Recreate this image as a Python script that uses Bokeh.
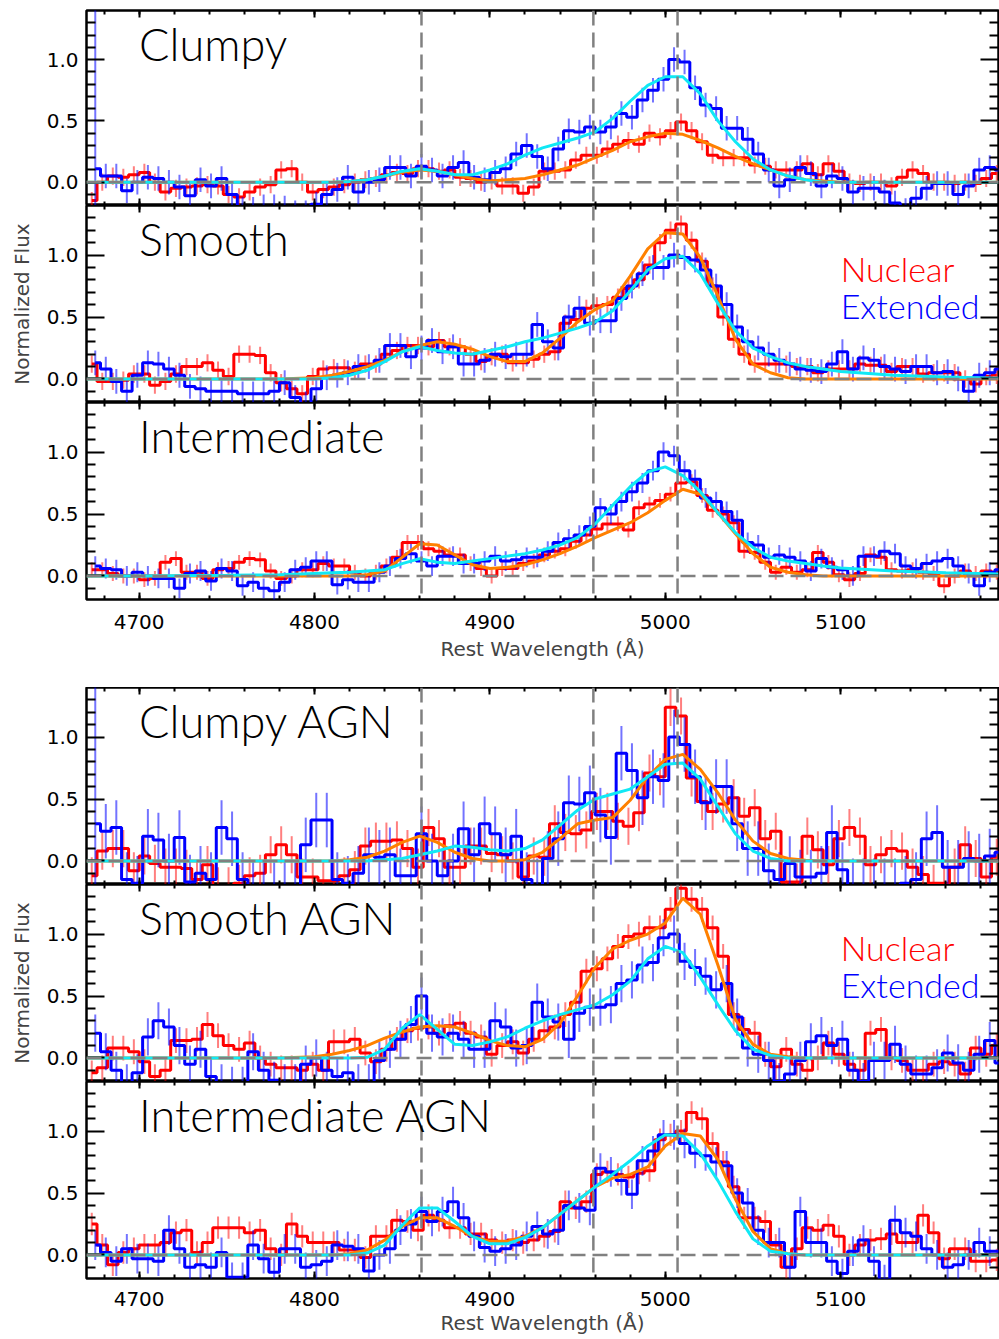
import numpy as np
from bokeh.plotting import figure
from bokeh.layouts import column
from bokeh.models import LinearAxis, Range1d, FixedTicker, Label, Span, PrintfTickFormatter
from bokeh.embed import file_html
from bokeh.resources import INLINE

# ---------------- data ----------------
PANEL_NAMES = ["Clumpy", "Smooth", "Intermediate", "Clumpy AGN", "Smooth AGN", "Intermediate AGN"]
LINE_CENTERS = [4861, 4959, 5007]
X_TICKS = [4700, 4800, 4900, 5000, 5100]
X_MINOR = list(range(4680, 5190, 20))
Y_TICKS = [0.0, 0.5, 1.0]
Y_MINOR = [-0.1, 0.1, 0.2, 0.3, 0.4, 0.6, 0.7, 0.8, 0.9, 1.1, 1.2, 1.3]
BIN_START = 4670.0
BIN_WIDTH = 6.0
EXT_SHIFT = 2.0
FIT_KNOTS = [4670, 4700, 4750, 4780] + list(range(4800, 5101, 10)) + [5130, 5160, 5190]

clumpy_nuc = [-0.15, 0.0, 0.05, 0.04, 0.06, 0.08, 0.0, -0.08, -0.05, -0.04,
              -0.03, -0.02, -0.03, -0.1, -0.12, -0.08, -0.04, -0.02, 0.1, 0.11,
              0.0, -0.08, -0.06, -0.04, -0.02, 0.0, 0.02, 0.03, 0.06, 0.08,
              0.07, 0.11, 0.11, 0.09, 0.1, 0.04, 0.03, 0.0, 0.01, -0.03,
              -0.03, -0.09, -0.04, 0.09, 0.09, 0.1, 0.18, 0.22, 0.22, 0.27,
              0.31, 0.34, 0.31, 0.4, 0.37, 0.42, 0.49, 0.42, 0.33, 0.22,
              0.2, 0.2, 0.2, 0.14, 0.13, 0.1, 0.1, 0.1, 0.15, 0.06,
              0.15, 0.09, 0.0, -0.01, 0.0, 0.0, -0.03, 0.04, 0.1, 0.07,
              0.0, 0.0, -0.01, 0.0, -0.01, 0.03, 0.07]
clumpy_ext = [0.11, 0.05, 0.05, -0.07, 0.0, 0.04, 0.03, 0.0, -0.04, -0.11,
              0.02, -0.03, 0.03, -0.1, -0.22, -0.22, -0.2, -0.2, -0.21, -0.25,
              -0.25, -0.18, -0.1, -0.06, 0.04, -0.08, 0.0, 0.02, 0.12, 0.12,
              0.05, 0.13, 0.1, 0.05, 0.12, 0.16, 0.04, 0.02, 0.08, 0.11,
              0.23, 0.3, 0.21, 0.11, 0.27, 0.42, 0.41, 0.45, 0.41, 0.45,
              0.56, 0.53, 0.67, 0.75, 0.84, 1.0, 0.98, 0.77, 0.63, 0.6,
              0.44, 0.44, 0.35, 0.23, 0.1, -0.03, 0.02, 0.12, 0.07, -0.03,
              0.05, 0.03, -0.08, -0.05, -0.05, -0.08, -0.17, -0.23, -0.13, -0.05,
              -0.01, -0.01, -0.1, -0.03, 0.1, 0.12, 0.1]
smooth_nuc = [0.12, -0.02, -0.02, -0.01, 0.04, 0.04, -0.05, -0.02, 0.04, 0.1,
              0.1, 0.13, 0.07, 0.02, 0.2, 0.2, 0.19, 0.05, -0.03, -0.08,
              -0.12, 0.02, 0.08, 0.09, 0.09, 0.07, 0.12, 0.12, 0.2, 0.23,
              0.27, 0.27, 0.26, 0.31, 0.26, 0.26, 0.2, 0.14, 0.18, 0.2,
              0.13, 0.13, 0.16, 0.2, 0.22, 0.45, 0.48, 0.57, 0.59, 0.6,
              0.66, 0.73, 0.8, 0.92, 1.1, 1.2, 1.25, 1.12, 0.95, 0.75,
              0.5, 0.32, 0.2, 0.12, 0.12, 0.12, 0.12, 0.1, 0.1, 0.05,
              0.08, 0.08, 0.08, 0.12, 0.11, 0.11, 0.06, 0.1, 0.1, 0.04,
              0.05, 0.05, 0.05, 0.0, -0.04, 0.02, 0.03]
smooth_ext = [0.13, 0.08, -0.02, -0.1, 0.03, 0.13, 0.12, 0.08, 0.03, -0.06,
              -0.08, -0.1, -0.1, -0.1, -0.12, -0.12, -0.12, -0.1, -0.03, -0.15,
              -0.2, -0.08, 0.01, 0.03, 0.05, 0.1, 0.1, 0.15, 0.27, 0.27,
              0.18, 0.25, 0.31, 0.22, 0.26, 0.12, 0.12, 0.15, 0.2, 0.18,
              0.2, 0.2, 0.44, 0.3, 0.25, 0.5, 0.57, 0.45, 0.47, 0.47,
              0.65, 0.75, 0.85, 0.9, 0.9, 1.0, 0.98, 0.96, 0.88, 0.75,
              0.6, 0.42, 0.3, 0.25, 0.2, 0.15, 0.12, 0.08, 0.07, 0.06,
              0.12, 0.22, 0.08, 0.17, 0.15, 0.1, 0.08, 0.06, 0.1, 0.1,
              0.05, 0.06, 0.0, -0.1, 0.03, 0.05, 0.08]
inter_nuc = [0.05, 0.05, 0.02, 0.0, 0.0, -0.03, -0.02, 0.11, 0.14, 0.03,
             0.03, -0.02, 0.05, 0.06, 0.11, 0.14, 0.13, 0.04, -0.02, 0.0,
             0.05, 0.05, 0.1, 0.08, 0.08, 0.03, 0.0, 0.03, 0.08, 0.15,
             0.27, 0.27, 0.22, 0.2, 0.17, 0.17, 0.1, 0.06, 0.0, 0.06,
             0.06, 0.1, 0.12, 0.17, 0.2, 0.22, 0.28, 0.33, 0.38, 0.42,
             0.42, 0.37, 0.55, 0.58, 0.61, 0.66, 0.75, 0.76, 0.65, 0.53,
             0.5, 0.43, 0.2, 0.19, 0.11, 0.03, 0.07, 0.03, 0.05, 0.19,
             0.11, 0.01, -0.03, 0.02, 0.17, 0.15, 0.05, 0.04, 0.05, 0.03,
             0.02, -0.08, 0.0, 0.04, 0.02, 0.04, 0.03]
inter_ext = [0.08, 0.06, 0.05, 0.0, 0.03, 0.0, -0.02, -0.02, -0.1, 0.02,
             0.04, -0.04, 0.06, 0.04, -0.08, -0.05, -0.1, -0.12, -0.05, 0.05,
             0.07, 0.12, 0.12, -0.07, -0.03, -0.05, -0.05, 0.03, 0.08, 0.14,
             0.18, 0.12, 0.08, 0.16, 0.16, 0.1, 0.1, 0.12, 0.16, 0.12,
             0.13, 0.15, 0.15, 0.2, 0.27, 0.3, 0.33, 0.4, 0.55, 0.5,
             0.6, 0.68, 0.75, 0.85, 1.0, 0.97, 0.85, 0.78, 0.63, 0.6,
             0.52, 0.45, 0.27, 0.25, 0.15, 0.17, 0.15, 0.12, 0.04, 0.14,
             0.07, 0.05, 0.0, 0.16, 0.16, 0.2, 0.18, 0.08, 0.06, 0.1,
             0.12, 0.14, 0.08, 0.02, -0.08, 0.03, 0.05]
clumpyagn_nuc = [-0.12, 0.08, 0.1, 0.1, -0.08, 0.04, -0.02, -0.05, -0.05, -0.06,
                 -0.15, -0.03, -0.2, -0.2, -0.18, -0.12, -0.1, 0.05, 0.13, 0.05,
                 -0.13, -0.13, -0.16, -0.16, -0.12, -0.07, 0.12, 0.16, 0.16, 0.17,
                 0.1, -0.05, 0.27, 0.18, -0.05, -0.05, 0.12, 0.12, 0.06, 0.05,
                 0.0, -0.13, 0.04, 0.03, 0.3, 0.23, 0.22, 0.25, 0.4, 0.4,
                 0.32, 0.28, 0.39, 0.71, 0.68, 1.24, 1.17, 0.67, 0.48, 0.4,
                 0.46, 0.51, 0.36, 0.43, 0.18, 0.24, -0.17, -0.17, 0.2, 0.09,
                 -0.03, 0.18, 0.27, 0.2, -0.03, 0.05, 0.1, 0.08, -0.05, -0.11,
                 -0.18, -0.18, -0.05, 0.13, 0.02, -0.13, 0.03]
clumpyagn_ext = [0.3, 0.24, 0.27, -0.15, -0.18, 0.2, 0.17, 0.0, 0.19, -0.17,
                 -0.1, -0.15, 0.27, 0.18, -0.15, -0.22, -0.22, -0.22, -0.22, -0.22,
                 0.13, 0.33, 0.33, -0.15, -0.18, -0.1, 0.05, 0.03, 0.05, -0.12,
                 -0.12, 0.22, 0.0, -0.12, 0.0, 0.26, 0.05, 0.3, 0.22, 0.05,
                 0.2, -0.15, -0.2, 0.02, 0.18, 0.47, 0.46, 0.55, 0.37, 0.19,
                 0.87, 0.73, 0.51, 0.68, 0.65, 1.0, 0.94, 0.68, 0.47, 0.6,
                 0.6, 0.3, 0.1, 0.1, -0.08, -0.15, -0.02, -0.13, -0.13, -0.1,
                 0.23, -0.07, -0.2, -0.2, -0.2, -0.2, -0.2, -0.18, -0.15, 0.18,
                 0.23, -0.05, -0.05, 0.02, 0.0, 0.04, 0.07]
smoothagn_nuc = [-0.12, -0.08, 0.08, 0.08, 0.05, -0.03, -0.15, -0.1, 0.14, 0.14,
                 0.15, 0.27, 0.18, 0.1, 0.07, 0.12, 0.0, -0.05, -0.08, -0.08,
                 -0.1, -0.05, -0.1, 0.13, 0.13, 0.15, 0.04, -0.03, 0.07, 0.15,
                 0.22, 0.24, 0.25, 0.2, 0.26, 0.28, 0.2, 0.17, 0.03, 0.1,
                 0.13, 0.04, 0.15, 0.22, 0.25, 0.35, 0.45, 0.7, 0.72, 0.8,
                 0.9, 0.98, 1.0, 1.05, 1.05, 1.2, 1.37, 1.28, 1.2, 1.05,
                 0.82, 0.35, 0.23, 0.2, 0.03, -0.07, 0.07, -0.05, -0.1, 0.0,
                 0.12, 0.03, -0.05, -0.1, 0.2, 0.23, 0.0, -0.02, -0.1, -0.1,
                 -0.05, -0.03, -0.05, -0.13, 0.08, 0.03, 0.1]
smoothagn_ext = [0.2, 0.05, -0.1, -0.2, -0.12, 0.17, 0.3, 0.25, 0.1, -0.05,
                 0.07, -0.15, -0.2, -0.22, -0.22, 0.05, -0.1, -0.18, -0.2, -0.2,
                 -0.05, 0.0, -0.1, -0.15, -0.12, -0.2, -0.2, -0.02, 0.07, 0.15,
                 0.27, 0.5, 0.2, 0.17, 0.2, 0.15, 0.07, 0.07, 0.3, 0.25,
                 0.08, 0.1, 0.45, 0.33, 0.29, 0.15, 0.36, 0.41, 0.41, 0.43,
                 0.6, 0.63, 0.75, 0.77, 0.97, 1.0, 0.78, 0.73, 0.66, 0.55,
                 0.6, 0.33, 0.08, 0.03, -0.02, -0.19, -0.13, -0.02, 0.13, 0.18,
                 0.1, 0.15, -0.1, -0.19, -0.02, -0.02, 0.11, -0.05, -0.13, -0.13,
                 -0.08, 0.04, -0.04, -0.1, 0.03, 0.14, -0.04]
interagn_nuc = [0.25, 0.08, -0.08, 0.02, 0.05, 0.08, 0.08, 0.1, 0.18, 0.2,
                0.02, 0.1, 0.22, 0.22, 0.22, 0.18, 0.2, 0.05, 0.0, 0.25,
                0.15, 0.1, 0.1, 0.1, 0.04, 0.04, -0.02, 0.15, 0.15, 0.28,
                0.27, 0.2, 0.32, 0.28, 0.22, 0.22, 0.17, 0.17, 0.12, 0.1,
                0.12, 0.1, 0.12, 0.15, 0.19, 0.43, 0.38, 0.43, 0.65, 0.67,
                0.65, 0.63, 0.66, 0.68, 0.93, 0.97, 1.0, 1.15, 1.1, 0.9,
                0.75, 0.55, 0.3, 0.3, 0.27, 0.08, -0.1, 0.05, 0.22, 0.2,
                0.24, 0.15, 0.0, 0.08, 0.12, 0.13, 0.17, 0.1, 0.1, 0.32,
                0.18, -0.03, 0.05, 0.05, -0.05, -0.05, -0.04]
interagn_ext = [0.08, 0.02, -0.05, 0.05, -0.03, -0.03, -0.05, 0.2, 0.05, -0.1,
                -0.08, -0.1, 0.02, -0.18, -0.18, 0.08, -0.03, -0.14, 0.05, 0.05,
                -0.1, -0.08, -0.05, 0.08, 0.07, 0.05, -0.13, 0.0, 0.05, 0.2,
                0.25, 0.35, 0.27, 0.35, 0.43, 0.3, 0.15, 0.06, 0.03, 0.05,
                0.08, 0.15, 0.23, 0.17, 0.2, 0.4, 0.38, 0.36, 0.7, 0.67,
                0.6, 0.49, 0.76, 0.84, 0.97, 0.97, 0.9, 0.82, 0.8, 0.75,
                0.72, 0.5, 0.42, 0.2, 0.1, 0.1, -0.1, 0.35, 0.1, 0.1,
                -0.05, -0.15, 0.03, 0.12, -0.05, -0.2, 0.28, 0.18, 0.15, 0.05,
                0.0, -0.1, -0.08, 0.0, 0.1, 0.03, 0.03]

# model fits sampled at FIT_KNOTS
clumpy_nuc_fit = [0, 0, 0, 0, 0, 0, 0.005, 0.02, 0.05, 0.08, 0.1, 0.09, 0.06, 0.03, 0.01, 0.02, 0.03, 0.06, 0.1,
                  0.14, 0.2, 0.26, 0.33, 0.37, 0.4, 0.39, 0.34, 0.28, 0.21, 0.15, 0.1, 0.05, 0.02, 0.01, 0, 0, 0, 0]
clumpy_ext_fit = [0, 0, 0, 0, 0, 0, 0.005, 0.02, 0.05, 0.09, 0.11, 0.09, 0.06, 0.06, 0.1, 0.15, 0.22, 0.28, 0.32,
                  0.36, 0.41, 0.52, 0.66, 0.79, 0.86, 0.86, 0.72, 0.5, 0.33, 0.19, 0.1, 0.05, 0.02, 0.0, 0, 0, 0, 0]
smooth_nuc_fit = [0, 0, 0, 0, 0.01, 0.03, 0.06, 0.1, 0.15, 0.22, 0.27, 0.3, 0.28, 0.24, 0.18, 0.14, 0.14, 0.21, 0.33,
                  0.46, 0.56, 0.63, 0.83, 1.05, 1.18, 1.17, 0.98, 0.67, 0.32, 0.12, 0.05, 0.01, 0, 0, 0, 0, 0, 0]
smooth_ext_fit = [0, 0, 0, 0, 0.0, 0.01, 0.03, 0.07, 0.14, 0.22, 0.26, 0.23, 0.21, 0.2, 0.23, 0.26, 0.3, 0.33, 0.37,
                  0.41, 0.46, 0.55, 0.71, 0.88, 0.97, 0.99, 0.85, 0.61, 0.39, 0.25, 0.18, 0.13, 0.1, 0.08, 0.06,
                  0.03, 0.015, 0.005]
inter_nuc_fit = [0, 0, 0, 0, 0, 0, 0, 0.01, 0.04, 0.15, 0.26, 0.25, 0.17, 0.09, 0.06, 0.07, 0.09, 0.13, 0.18,
                 0.24, 0.31, 0.37, 0.43, 0.51, 0.61, 0.7, 0.66, 0.51, 0.34, 0.18, 0.07, 0.03, 0.01, 0, 0, 0, 0, 0]
inter_ext_fit = [0, 0, 0.005, 0.01, 0.02, 0.025, 0.03, 0.04, 0.05, 0.1, 0.14, 0.11, 0.1, 0.12, 0.14, 0.16, 0.18,
                 0.21, 0.25, 0.31, 0.42, 0.57, 0.72, 0.84, 0.88, 0.81, 0.68, 0.51, 0.35, 0.23, 0.15, 0.12, 0.1,
                 0.08, 0.065, 0.04, 0.025, 0.015]
clumpyagn_nuc_fit = [0, 0, 0, 0, 0, 0, 0.01, 0.03, 0.08, 0.15, 0.2, 0.15, 0.07, 0.02, 0.0, 0.0, 0.01, 0.07, 0.18,
                     0.3, 0.33, 0.35, 0.49, 0.68, 0.82, 0.86, 0.74, 0.55, 0.33, 0.16, 0.06, 0.02, 0.005, 0, 0, 0, 0, 0]
clumpyagn_ext_fit = [0, 0, 0, 0, 0, 0, 0, 0, 0.01, 0.02, 0.05, 0.08, 0.12, 0.11, 0.09, 0.08, 0.1, 0.17, 0.29,
                     0.41, 0.5, 0.54, 0.58, 0.68, 0.78, 0.79, 0.66, 0.44, 0.22, 0.08, 0.02, 0.0, 0, 0, 0, 0, 0, 0]
smoothagn_nuc_fit = [0, 0, 0, 0, 0.01, 0.03, 0.06, 0.1, 0.16, 0.21, 0.25, 0.26, 0.25, 0.2, 0.14, 0.1, 0.09, 0.15,
                     0.28, 0.5, 0.73, 0.88, 0.95, 1.0, 1.09, 1.29, 1.16, 0.75, 0.31, 0.11, 0.03, 0.01, 0, 0, 0, 0, 0, 0]
smoothagn_ext_fit = [0, 0, 0, 0, 0, 0, 0, 0.005, 0.07, 0.24, 0.35, 0.23, 0.11, 0.1, 0.13, 0.17, 0.24, 0.3, 0.35,
                     0.39, 0.43, 0.51, 0.62, 0.8, 0.9, 0.85, 0.65, 0.43, 0.22, 0.07, 0.02, 0.0, 0, 0, 0, 0, 0, 0]
interagn_nuc_fit = [0, 0, 0, 0, 0, 0, 0.01, 0.04, 0.12, 0.23, 0.3, 0.3, 0.23, 0.15, 0.11, 0.11, 0.15, 0.22, 0.33,
                    0.44, 0.55, 0.62, 0.65, 0.71, 0.88, 0.98, 0.96, 0.77, 0.45, 0.19, 0.05, 0.01, 0.0, 0, 0, 0, 0, 0]
interagn_ext_fit = [0, 0, 0, 0, 0, 0, 0, 0.015, 0.08, 0.24, 0.38, 0.38, 0.27, 0.15, 0.09, 0.09, 0.14, 0.22, 0.33,
                    0.44, 0.55, 0.65, 0.76, 0.88, 0.97, 0.96, 0.82, 0.6, 0.35, 0.13, 0.03, 0.01, 0, 0, 0, 0, 0, 0]

# typical 1-sigma error per series (nuclear, extended) and first-bin error of extended spectrum
nuc_err = [0.07, 0.07, 0.06, 0.15, 0.1, 0.09]
ext_err = [0.1, 0.1, 0.08, 0.22, 0.15, 0.12]
ext_first_err = [2.0, 0.1, 0.08, 2.0, 0.15, 0.12]

NUC = [clumpy_nuc, smooth_nuc, inter_nuc, clumpyagn_nuc, smoothagn_nuc, interagn_nuc]
EXT = [clumpy_ext, smooth_ext, inter_ext, clumpyagn_ext, smoothagn_ext, interagn_ext]
NUC_FIT = [clumpy_nuc_fit, smooth_nuc_fit, inter_nuc_fit, clumpyagn_nuc_fit, smoothagn_nuc_fit, interagn_nuc_fit]
EXT_FIT = [clumpy_ext_fit, smooth_ext_fit, inter_ext_fit, clumpyagn_ext_fit, smoothagn_ext_fit, interagn_ext_fit]

# ---------------- style ----------------
RED = "#FF0000"
BLUE = "#0000FF"
ORANGE = "#FF8000"
CYAN = "#10E8F5"
GREY = "#808080"
AX_FONT = "DejaVu Sans"
LBL_FONT = "Lato Light"
WIDTH = 999
X_RANGE = (4670, 5190)
Y_RANGE = (-0.19, 1.40)


def tick_only_axes(p, side, major_pos, minor_pos, major_len, minor_len):
    # axes without labels: ticks drawn as "minor" ticks only, so no label text exists
    for pos, ln in ((major_pos, major_len), (minor_pos, minor_len)):
        ax = LinearAxis(ticker=FixedTicker(ticks=[], minor_ticks=pos))
        ax.axis_line_color = None
        ax.major_tick_line_color = None
        ax.major_tick_in = 0
        ax.major_tick_out = 0
        ax.minor_tick_in = ln
        ax.minor_tick_out = 0
        ax.minor_tick_line_width = 2
        ax.minor_tick_line_color = "black"
        ax.major_label_standoff = 0
        p.add_layout(ax, side)


def labeled_axis(ticker, major_len, minor_len, fmt=None):
    ax = LinearAxis(ticker=ticker) if fmt is None else LinearAxis(ticker=ticker, formatter=fmt)
    ax.axis_line_color = None
    ax.major_tick_in = major_len
    ax.major_tick_out = 0
    ax.minor_tick_in = minor_len
    ax.minor_tick_out = 0
    ax.major_tick_line_width = 2
    ax.minor_tick_line_width = 2
    ax.major_tick_line_color = "black"
    ax.minor_tick_line_color = "black"
    ax.major_label_text_font = AX_FONT
    ax.major_label_text_font_size = "20px"
    ax.major_label_text_color = "black"
    return ax


def make_panel(i, height, top, bottom, show_x, show_ylabel, show_legend, xl_standoff=15, xt_standoff=5):
    p = figure(width=WIDTH, height=height, x_range=Range1d(*X_RANGE), y_range=Range1d(*Y_RANGE),
               output_backend="svg", toolbar_location=None,
               x_axis_location=None, y_axis_location=None,
               min_border_left=86, min_border_right=1, min_border_top=top, min_border_bottom=bottom)
    p.grid.grid_line_color = None
    p.outline_line_color = "black"
    p.outline_line_width = 2.5
    p.background_fill_color = "white"
    p.border_fill_color = "white"

    left = labeled_axis(FixedTicker(ticks=Y_TICKS, minor_ticks=Y_MINOR), 18, 9,
                        PrintfTickFormatter(format="%.1f"))
    left.major_label_standoff = 8
    if show_ylabel:
        left.axis_label = "Normalized Flux"
        left.axis_label_text_font = AX_FONT
        left.axis_label_text_font_size = "20px"
        left.axis_label_text_font_style = "normal"
        left.axis_label_standoff = 10
    p.add_layout(left, "left")

    tick_only_axes(p, "right", Y_TICKS, Y_MINOR, 18, 9)
    tick_only_axes(p, "above", X_TICKS, X_MINOR, 7, 4)

    if show_x:
        below = labeled_axis(FixedTicker(ticks=X_TICKS, minor_ticks=X_MINOR), 7, 4)
        below.major_label_standoff = xl_standoff
        below.axis_label = "Rest Wavelength (\u00c5)"
        below.axis_label_text_font = AX_FONT
        below.axis_label_text_font_size = "20px"
        below.axis_label_text_font_style = "normal"
        below.axis_label_standoff = xt_standoff
        p.add_layout(below, "below")
    else:
        tick_only_axes(p, "below", X_TICKS, X_MINOR, 7, 4)

    for lc in LINE_CENTERS:
        p.add_layout(Span(location=lc, dimension="height", line_color=GREY, line_dash="15 7", line_width=2.5))
    p.add_layout(Span(location=0, dimension="width", line_color=GREY, line_dash="15 7", line_width=2.5))

    nuc = np.array(NUC[i], dtype=float)
    ext = np.array(EXT[i], dtype=float)
    n = len(nuc)
    xn = BIN_START + BIN_WIDTH * (np.arange(n) + 0.5)
    xe = xn + EXT_SHIFT
    en = np.full(n, nuc_err[i])
    ee = np.full(n, ext_err[i])
    ee[0] = ext_first_err[i]

    p.segment(x0=xn, y0=nuc - en, x1=xn, y1=nuc + en, line_color=RED, line_alpha=0.5, line_width=2)
    p.step(x=xn, y=nuc, mode="center", line_color=RED, line_width=3)
    p.segment(x0=xe, y0=ext - ee, x1=xe, y1=ext + ee, line_color=BLUE, line_alpha=0.55, line_width=2)
    p.step(x=xe, y=ext, mode="center", line_color=BLUE, line_width=3)

    p.line(FIT_KNOTS, NUC_FIT[i], line_color=ORANGE, line_width=3)
    p.line(FIT_KNOTS, EXT_FIT[i], line_color=CYAN, line_width=3)

    p.add_layout(Label(x=4700, y=1.13, text=PANEL_NAMES[i], text_font=LBL_FONT, text_font_size="45px",
                       text_color="black", text_baseline="middle", text_align="left"))
    if show_legend:
        p.add_layout(Label(x=5100, y=0.89, text="Nuclear", text_font=LBL_FONT, text_font_size="34px",
                           text_color=RED, text_baseline="middle"))
        p.add_layout(Label(x=5100, y=0.59, text="Extended", text_font=LBL_FONT, text_font_size="34px",
                           text_color=BLUE, text_baseline="middle"))
    return p


# frames: 10-205, 205-402, 402-599 | 687-884, 884-1081, 1081-1278
p1 = make_panel(0, 205, 10, 0, False, False, False)
p2 = make_panel(1, 197, 0, 0, False, True, True)
p3 = make_panel(2, 285, 0, 88, True, False, False)
p4 = make_panel(3, 197, 0, 0, False, False, False)
p5 = make_panel(4, 197, 0, 0, False, True, True)
p6 = make_panel(5, 258, 0, 61, True, False, False, xl_standoff=13, xt_standoff=2)

p = column(p1, p2, p3, p4, p5, p6, spacing=0)

open("out.html", "w").write(file_html(p, INLINE))
